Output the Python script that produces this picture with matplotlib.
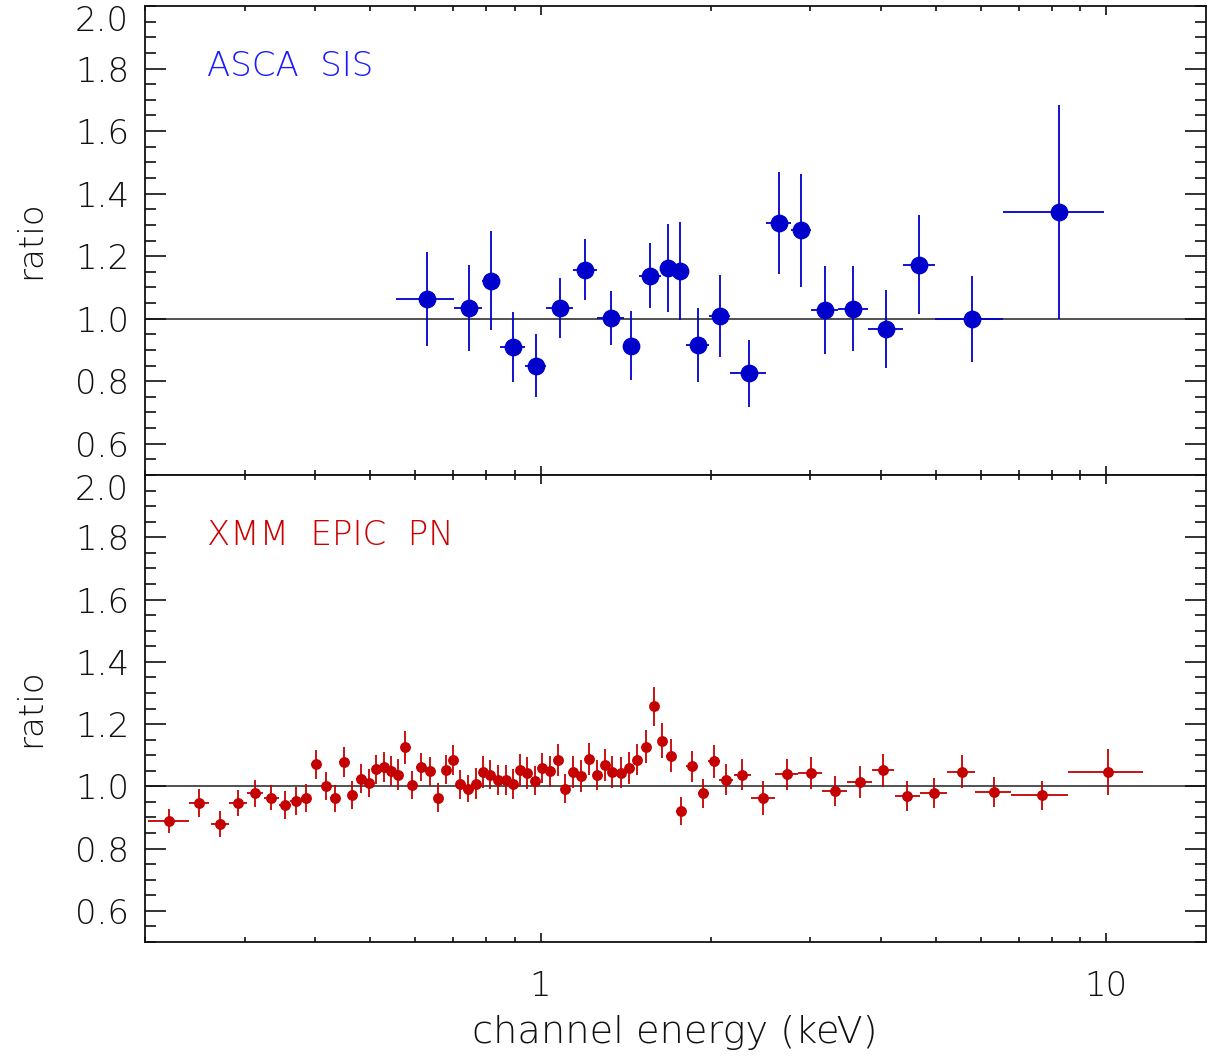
# Imports --------------------------------------------------------
import matplotlib
matplotlib.use('Agg')
import matplotlib.pyplot as plt
from matplotlib.ticker import MultipleLocator, LogLocator, NullFormatter
from matplotlib.transforms import blended_transform_factory

# Data -----------------------------------------------------------
# ASCA SIS: bin centre (keV), bin half width (keV), ratio, 1-sigma error
sis_energy = [0.629, 0.746, 0.819, 0.893, 0.980, 1.082, 1.200, 1.331, 1.447,
              1.563, 1.679, 1.766, 1.898, 2.073, 2.333, 2.638, 2.887, 3.180,
              3.572, 4.078, 4.674, 5.778, 8.240]
sis_halfw = [0.073, 0.043, 0.030, 0.045, 0.043, 0.059, 0.060, 0.072, 0.044,
             0.072, 0.044, 0.043, 0.089, 0.086, 0.175, 0.131, 0.119, 0.174,
             0.218, 0.289, 0.307, 0.797, 1.666]
sis_ratio = [1.062, 1.033, 1.121, 0.909, 0.850, 1.033, 1.157, 1.003, 0.913,
             1.138, 1.162, 1.153, 0.916, 1.009, 0.825, 1.307, 1.283, 1.028,
             1.032, 0.967, 1.173, 0.999, 1.340]
sis_err = [0.150, 0.138, 0.158, 0.111, 0.102, 0.096, 0.098, 0.086, 0.110,
           0.103, 0.142, 0.157, 0.117, 0.132, 0.107, 0.163, 0.181, 0.140,
           0.135, 0.124, 0.159, 0.138, 0.342]

# XMM EPIC PN
pn_energy = [0.2208, 0.2496, 0.2713, 0.2921, 0.3133, 0.3344, 0.3535, 0.3693,
             0.3851, 0.4011, 0.4172, 0.4332, 0.4488, 0.4649, 0.4809, 0.4967,
             0.5117, 0.5285, 0.5445, 0.5602, 0.5763, 0.5937, 0.6143, 0.6372,
             0.6591, 0.6801, 0.7004, 0.7217, 0.7455, 0.7690, 0.7912, 0.8154,
             0.8407, 0.8675, 0.8936, 0.9193, 0.9474, 0.9759, 1.007, 1.038,
             1.072, 1.104, 1.142, 1.180, 1.217, 1.257, 1.299, 1.340, 1.386,
             1.434, 1.483, 1.536, 1.586, 1.639, 1.702, 1.773, 1.852, 1.939,
             2.027, 2.131, 2.274, 2.474, 2.727, 3.002, 3.313, 3.663, 4.032,
             4.452, 4.954, 5.550, 6.328, 7.683, 10.07]
pn_halfw = [0.0182, 0.0101, 0.0099, 0.0103, 0.0106, 0.0104, 0.0088, 0.0079,
            0.0080, 0.0080, 0.0080, 0.0079, 0.0079, 0.0080, 0.0080, 0.0077,
            0.0079, 0.0082, 0.0079, 0.0080, 0.0084, 0.0095, 0.0108, 0.0112,
            0.0107, 0.0104, 0.0105, 0.0113, 0.0118, 0.0114, 0.0116, 0.0124,
            0.0131, 0.0132, 0.0130, 0.0134, 0.0141, 0.0149, 0.0156, 0.0161,
            0.0163, 0.0176, 0.0190, 0.0187, 0.0193, 0.0204, 0.0207, 0.0218,
            0.0235, 0.0243, 0.0256, 0.0260, 0.0258, 0.0288, 0.0333, 0.0373,
            0.0414, 0.0439, 0.0461, 0.0619, 0.0799, 0.1175, 0.1295, 0.1463,
            0.1654, 0.1837, 0.1858, 0.2287, 0.2745, 0.320, 0.4625, 0.889, 1.515]
pn_ratio = [0.889, 0.945, 0.878, 0.946, 0.977, 0.964, 0.941, 0.952, 0.963,
            1.071, 1.002, 0.961, 1.078, 0.973, 1.025, 1.011, 1.055, 1.063,
            1.050, 1.038, 1.125, 1.005, 1.062, 1.048, 0.964, 1.054, 1.084,
            1.006, 0.993, 1.009, 1.046, 1.037, 1.019, 1.020, 1.007, 1.053,
            1.042, 1.018, 1.058, 1.048, 1.084, 0.993, 1.046, 1.034, 1.087,
            1.036, 1.069, 1.046, 1.044, 1.060, 1.086, 1.127, 1.257, 1.147,
            1.099, 0.922, 1.064, 0.977, 1.081, 1.021, 1.037, 0.962, 1.039,
            1.042, 0.985, 1.014, 1.051, 0.968, 0.979, 1.047, 0.981, 0.971,
            1.047]
pn_err = [0.039, 0.045, 0.042, 0.042, 0.043, 0.041, 0.045, 0.045, 0.044,
          0.046, 0.045, 0.044, 0.047, 0.045, 0.046, 0.046, 0.047, 0.048,
          0.049, 0.050, 0.052, 0.045, 0.045, 0.046, 0.046, 0.048, 0.049,
          0.048, 0.043, 0.051, 0.052, 0.047, 0.048, 0.048, 0.049, 0.051,
          0.052, 0.047, 0.048, 0.050, 0.052, 0.047, 0.050, 0.051, 0.052,
          0.049, 0.052, 0.051, 0.049, 0.051, 0.051, 0.053, 0.062, 0.056,
          0.053, 0.045, 0.051, 0.048, 0.053, 0.050, 0.050, 0.054, 0.050,
          0.051, 0.047, 0.050, 0.052, 0.048, 0.048, 0.053, 0.048, 0.047,
          0.074]

y_major = [0.6, 0.8, 1.0, 1.2, 1.4, 1.6, 1.8]
x_major = [1, 10]
x_labels = ['1', '10']

# Figure ---------------------------------------------------------
plt.rcParams['font.family'] = ['DejaVu Sans']
plt.rcParams['font.weight'] = 200
FS = 24.5
TXT = '#111111'

W, H = 1211, 1061
fig = plt.figure(figsize=(W / 100, H / 100), dpi=100)
left, right = 145 / W, 1206 / W
ax_top = fig.add_axes([left, 1 - 475 / H, right - left, 469 / H])
ax_bot = fig.add_axes([left, 1 - 942 / H, right - left, 467 / H])

panels = [
    (ax_top, sis_energy, sis_halfw, sis_ratio, sis_err, '#0000cc', 11.8, 'ASCA  SIS', '#1a1aff'),
    (ax_bot, pn_energy, pn_halfw, pn_ratio, pn_err, '#c40000', 6.8, 'XMM  EPIC  PN', '#cc0000'),
]

for ax, e, de, r, dr, col, ms, name, tcol in panels:
    ax.axhline(1.0, color='#333333', lw=1.2, zorder=1)
    ax.errorbar(e, r, xerr=de, yerr=dr, fmt='o', color=col, ms=ms,
                elinewidth=1.3, capsize=0, zorder=3)
    ax.set_xscale('log')
    ax.set_xlim(0.2, 15)
    ax.set_ylim(0.5, 2.0)

    ax.set_xticks(x_major)
    ax.set_xticklabels(x_labels)
    ax.xaxis.set_minor_locator(LogLocator(base=10, subs=range(2, 10), numticks=20))
    ax.xaxis.set_minor_formatter(NullFormatter())
    ax.set_yticks(y_major)
    ax.set_yticklabels(['%.1f' % v for v in y_major])
    ax.yaxis.set_minor_locator(MultipleLocator(0.05))

    ax.tick_params(axis='both', which='both', direction='in', top=True, right=True,
                   labelsize=FS, colors=TXT)
    ax.tick_params(axis='y', which='major', length=15, width=1.2, pad=11.5)
    ax.tick_params(axis='y', which='minor', length=8, width=1.2)
    ax.tick_params(axis='x', which='major', length=6.5, width=1.2, pad=20)
    ax.tick_params(axis='x', which='minor', length=3.3, width=1.2)
    for s in ax.spines.values():
        s.set_linewidth(1.3)
        s.set_color(TXT)

    # top label sits just below the 2.0 line, as in the original
    trans = blended_transform_factory(ax.transAxes, ax.transData)
    ax.text(-16 / (W * (right - left)), 1.95, '2.0', transform=trans,
            ha='right', va='center', fontsize=FS, color=TXT)

    ax.text(62 / (1206 - 145), 0.870, name, transform=ax.transAxes, color=tcol,
            fontsize=FS, ha='left', va='center')

ax_top.tick_params(axis='x', labelbottom=False)

fig.text(31 / W, 1 - 240 / H, 'ratio', rotation=90, ha='center', va='center',
         fontsize=FS, color=TXT)
fig.text(31 / W, 1 - 708 / H, 'ratio', rotation=90, ha='center', va='center',
         fontsize=FS, color=TXT)
fig.text(675 / W, 1 - 1033 / H, 'channel energy (keV)', ha='center', va='center',
         fontsize=27.5, color=TXT)

fig.savefig('out.png', dpi=100)
